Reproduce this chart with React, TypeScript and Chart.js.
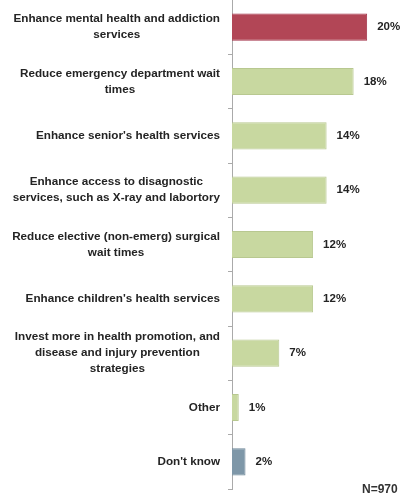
import React, { useEffect, useRef } from "react";
import { Chart, registerables } from "chart.js";
Chart.register(...registerables);

const categories: string[][] = [
  ["Enhance mental health and addiction", "services"],
  ["Reduce emergency department wait", "times"],
  ["Enhance senior's health services"],
  ["Enhance access to disagnostic", "services, such as X-ray and labortory"],
  ["Reduce elective (non-emerg) surgical", "wait times"],
  ["Enhance children's health services"],
  ["Invest more in health promotion, and", "disease and injury prevention", "strategies"],
  ["Other"],
  ["Don't know"],
];
const values: number[] = [20, 18, 14, 14, 12, 12, 7, 1, 2];
const valueLabels: string[] = ["20%", "18%", "14%", "14%", "12%", "12%", "7%", "1%", "2%"];
const barColors: string[] = ["#b24656", "#c8d8a0", "#c8d8a0", "#c8d8a0", "#c8d8a0", "#c8d8a0", "#c8d8a0", "#c8d8a0", "#7e97a8"];
const borderColors: string[] = ["#a3324a", "#b8c890", "#b8c890", "#b8c890", "#b8c890", "#b8c890", "#b8c890", "#b8c890", "#6e8798"];
const sampleNote = "N=970";

const FONT = "bold 11.7px 'Liberation Sans', Arial, sans-serif";
const VFONT = "bold 11.5px 'Liberation Sans', Arial, sans-serif";

const labelPlugin = {
  id: "customLabels",
  afterDraw(chart: any) {
    const ctx = chart.ctx;
    const y = chart.scales.y;
    const meta = chart.getDatasetMeta(0);
    ctx.save();
    ctx.font = FONT;
    ctx.fillStyle = "#242424";
    ctx.textBaseline = "middle";
    const lineH = 16;
    const rightEdge = y.right - 12;
    categories.forEach((lines, i) => {
      const cy = y.getPixelForValue(i);
      const w = Math.max(...lines.map((l) => ctx.measureText(l).width));
      const cx = rightEdge - w / 2;
      ctx.textAlign = "center";
      const startY = cy - ((lines.length - 1) * lineH) / 2;
      lines.forEach((l, j) => ctx.fillText(l, cx, startY + j * lineH));
    });
    ctx.font = VFONT;
    ctx.textAlign = "left";
    meta.data.forEach((bar: any, i: number) => {
      ctx.fillText(valueLabels[i], bar.x + 10, bar.y);
    });
    ctx.restore();
  },
};

export default function App() {
  const ref = useRef<HTMLCanvasElement>(null);
  useEffect(() => {
    document.body.style.margin = "0";
    const chart = new Chart(ref.current!, {
      type: "bar",
      data: {
        labels: categories.map((c) => c.join(" ")),
        datasets: [
          {
            data: values,
            backgroundColor: barColors,
            borderColor: borderColors,
            borderWidth: 1,
            barPercentage: 0.5,
            categoryPercentage: 1,
          },
        ],
      },
      options: {
        indexAxis: "y",
        animation: false,
        responsive: false,
        maintainAspectRatio: false,
        layout: { padding: { top: 0, bottom: 10, right: 2, left: 0 } },
        plugins: { legend: { display: false }, tooltip: { enabled: false } },
        scales: {
          x: { display: false, min: 0, max: 25.6 },
          y: {
            afterFit: (s: any) => {
              s.width = 232;
            },
            ticks: { display: false },
            grid: {
              drawOnChartArea: false,
              drawTicks: true,
              tickLength: 4,
              color: "#aaaaaa",
              offset: true,
            },
            border: { display: true, color: "#aaaaaa" },
          },
        },
      },
      plugins: [labelPlugin],
    });
    return () => chart.destroy();
  }, []);
  return (
    <div style={{ position: "relative", width: 407, height: 499, background: "#fff" }}>
      <canvas ref={ref} width={407} height={499} style={{ display: "block" }} />
      <div
        style={{
          position: "absolute",
          left: 362,
          top: 482,
          font: "bold 12px 'Liberation Sans', Arial, sans-serif",
          color: "#333",
        }}
      >
        {sampleNote}
      </div>
    </div>
  );
}
